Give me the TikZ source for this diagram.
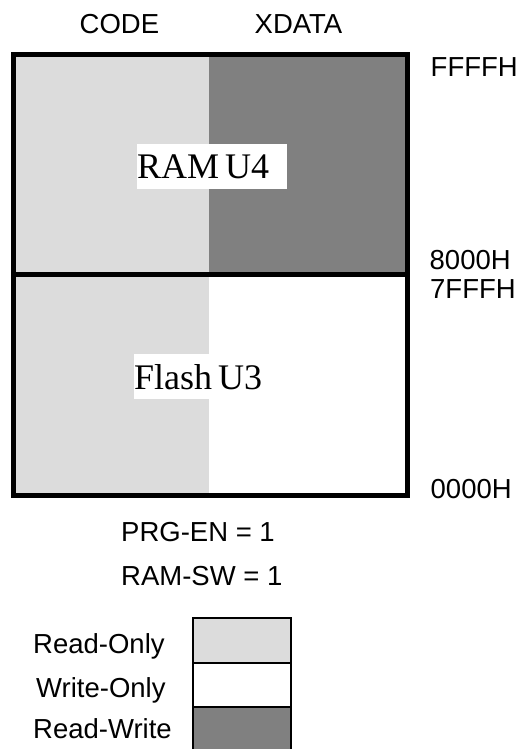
\documentclass[tikz,border=0pt]{standalone}
\usepackage{fontspec}
\setmainfont{Liberation Sans}
\newfontfamily\chipfont{Liberation Serif}
\usepackage{tikz}
\usetikzlibrary{positioning}
\definecolor{readonly}{HTML}{DCDCDC}
\definecolor{readwrite}{HTML}{808080}
\tikzset{
  txt/.style={anchor=base west, inner sep=0pt, font=\fontsize{27.5}{30}\selectfont},
  chip/.style={anchor=north west, fill=white, inner sep=0pt, text width=150pt,
    align=left, minimum height=45pt, font=\chipfont\fontsize{36}{40}\selectfont},
  keybox/.style={draw=black, line width=2pt}
}

\begin{document}
\begin{tikzpicture}[x=1pt,y=-1pt]
  \useasboundingbox (0,0) rectangle (524,749);
  % memory map
  \fill[readonly] (13.5,54.5) rectangle (209,495.5);
  \fill[readwrite] (209,54.5) rectangle (407,274.5);
  \draw[line width=5pt] (13.5,54.5) rectangle (407,495.5);
  \draw[line width=5pt] (13.5,274.5) -- (407,274.5);
  \node[chip] (ram) at (137,144) {RAM\hspace{6pt}U4};
  \node[chip] (flash) at (134,354) {Flash\hspace{6pt}U3};
  % column titles
  \node[txt] (code) at (79.5,33.3) {CODE};
  \node[txt] (xdata) at (254.5,33.3) {XDATA};
  % addresses
  \node[txt] (top) at (430.5,77) {FFFFH};
  \node[txt] (hi) at (429.5,269.5) {8000H};
  \node[txt] (lo) at (430,298) {7FFFH};
  \node[txt] (bot) at (430.5,498) {0000H};
  % settings
  \node[txt] (prg) at (121,541.7) {PRG-EN = 1};
  \node[txt] (sw) at (121,585) {RAM-SW = 1};
  % legend
  \filldraw[keybox, fill=readonly] (193,618) rectangle (291,663);
  \filldraw[keybox, fill=white] (193,663) rectangle (291,707);
  \filldraw[keybox, fill=readwrite] (193,707) rectangle (291,752);
  \node[txt] (ro) at (33,653) {Read-Only};
  \node[txt] (wo) at (36,697) {Write-Only};
  \node[txt] (rw) at (33,738) {Read-Write};
\end{tikzpicture}
\end{document}
